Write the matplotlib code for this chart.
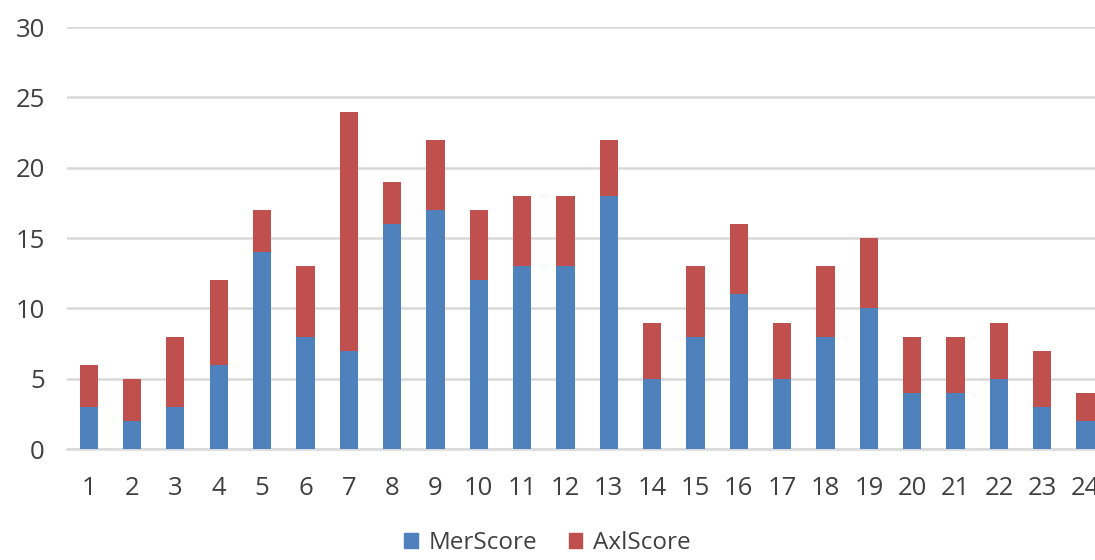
import matplotlib.pyplot as plt
import numpy as np
from matplotlib.patches import Patch

plt.rcParams['font.family'] = ['Open Sans', 'DejaVu Sans']

categories = [str(i) for i in range(1, 25)]
mer_score = [3, 2, 3, 6, 14, 8, 7, 16, 17, 12, 13, 13, 18, 5, 8, 11, 5, 8, 10, 4, 4, 5, 3, 2]
axl_score = [3, 3, 5, 6, 3, 5, 17, 3, 5, 5, 5, 5, 4, 4, 5, 5, 4, 5, 5, 4, 4, 4, 4, 2]

blue = '#4f81bd'
red = '#c0504d'
txt = '#404040'

fig = plt.figure(figsize=(10.95, 5.6), dpi=100)
ax = fig.add_axes([0.0612, 0.198, 0.95, 0.7536])

x = np.arange(len(categories))
ax.bar(x, mer_score, width=0.42, color=blue, zorder=3)
ax.bar(x, axl_score, width=0.42, bottom=mer_score, color=red, zorder=3)

ax.set_xlim(-0.5, 23.5)
ax.set_ylim(0, 30)
ax.set_yticks(range(0, 31, 5))
ax.set_xticks(x)
ax.set_xticklabels(categories)
ax.yaxis.grid(True, color='#d9d9d9', linewidth=1.8, zorder=0)
ax.set_axisbelow(True)
for s in ['top', 'right', 'left']:
    ax.spines[s].set_visible(False)
ax.spines['bottom'].set_color('#d9d9d9')
ax.spines['bottom'].set_linewidth(1.8)
ax.tick_params(axis='both', length=0, labelsize=18.5, labelcolor=txt)
ax.tick_params(axis='x', pad=19)
ax.tick_params(axis='y', pad=16)

handles = [Patch(color=blue, label='MerScore'), Patch(color=red, label='AxlScore')]
fig.legend(handles=handles, loc='center', bbox_to_anchor=(0.5, 0.03), ncol=2,
           frameon=False, fontsize=17.5, labelcolor=txt, handlelength=0.55,
           handleheight=0.55, handletextpad=0.45, columnspacing=1.3,
           borderpad=0.1)

fig.savefig('out.png', dpi=100)
